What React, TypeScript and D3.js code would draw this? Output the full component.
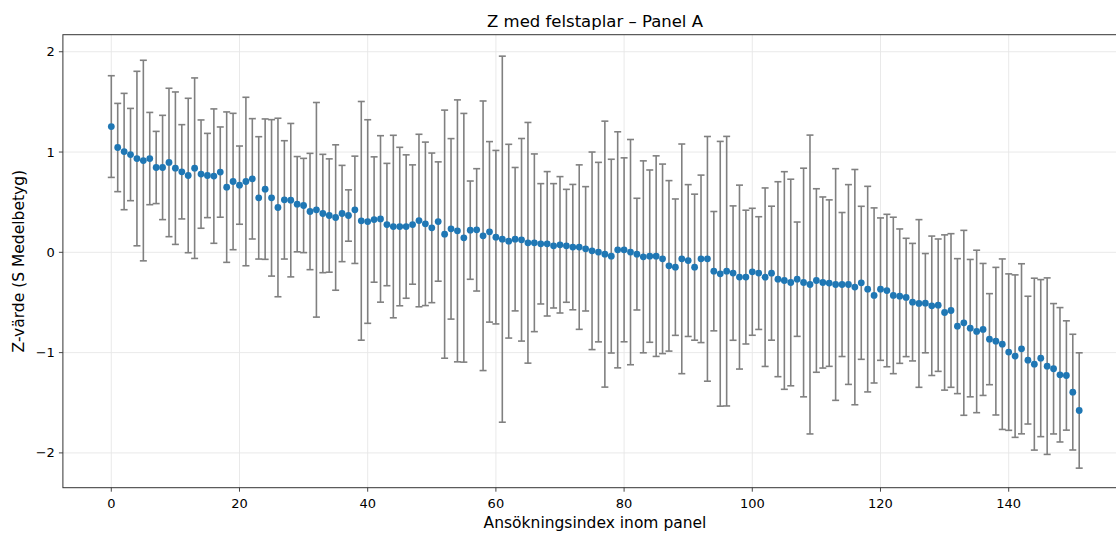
import * as d3 from 'd3'

// Z-värden per ansökan (punkt) och felstapel (±)
const zValues = [
  1.254, 1.045, 1.005, 0.975, 0.935, 0.915, 0.935, 0.846, 0.846, 0.896,
  0.839, 0.803, 0.766, 0.839, 0.78, 0.766, 0.76, 0.8, 0.65, 0.706,
  0.67, 0.706, 0.733, 0.543, 0.63, 0.543, 0.447, 0.523, 0.52, 0.48,
  0.467, 0.407, 0.424, 0.387, 0.367, 0.347, 0.387, 0.367, 0.424, 0.314,
  0.307, 0.327, 0.333, 0.277, 0.257, 0.257, 0.257, 0.277, 0.317, 0.284,
  0.244, 0.307, 0.181, 0.234, 0.214, 0.145, 0.221, 0.224, 0.165, 0.204,
  0.151, 0.131, 0.111, 0.131, 0.125, 0.095, 0.095, 0.085, 0.085, 0.065,
  0.075, 0.065, 0.052, 0.052, 0.035, 0.015, 0.002, -0.018, -0.038, 0.025,
  0.025, 0.002, -0.018, -0.045, -0.038, -0.038, -0.065, -0.135, -0.148, -0.065,
  -0.082, -0.148, -0.065, -0.065, -0.188, -0.214, -0.188, -0.207, -0.247, -0.247,
  -0.194, -0.207, -0.248, -0.208, -0.268, -0.281, -0.301, -0.268, -0.301, -0.321,
  -0.281, -0.301, -0.307, -0.321, -0.321, -0.321, -0.347, -0.304, -0.367, -0.43,
  -0.367, -0.381, -0.43, -0.437, -0.45, -0.497, -0.51, -0.507, -0.533, -0.527,
  -0.6, -0.58, -0.736, -0.703, -0.756, -0.789, -0.769, -0.866, -0.886, -0.916,
  -0.995, -1.035, -0.962, -1.075, -1.115, -1.055, -1.135, -1.161, -1.221, -1.228,
  -1.394, -1.577,
]

const errValues = [
  0.507, 0.44, 0.58, 0.46, 0.87, 1.0, 0.46, 0.36, 0.52, 0.74,
  0.76, 0.47, 0.77, 0.9, 0.54, 0.42, 0.67, 0.45, 0.75, 0.68,
  0.39, 0.84, 0.6, 0.61, 0.7, 0.78, 0.89, 0.59, 0.765, 0.475,
  0.47, 0.58, 1.07, 0.59, 0.565, 0.725, 0.48, 0.256, 0.535, 1.19,
  1.015, 0.625, 0.83, 0.61, 0.91, 0.79, 0.715, 0.595, 0.86, 0.815,
  0.746, 0.595, 1.237, 0.9, 1.306, 1.24, 0.49, 0.61, 1.344, 0.9,
  0.865, 1.825, 0.966, 0.715, 1.01, 1.2, 0.886, 0.6, 0.72, 0.62,
  0.68, 0.563, 0.625, 0.82, 0.62, 0.985, 0.895, 1.326, 0.966, 1.177,
  0.917, 1.123, 0.557, 0.957, 0.859, 1.0, 0.945, 0.85, 0.68, 1.145,
  0.757, 0.728, 0.835, 1.22, 0.595, 1.32, 1.344, 0.67, 0.917, 0.667,
  0.633, 0.562, 0.89, 0.668, 0.972, 1.085, 1.03, 0.57, 1.14, 1.49,
  0.915, 0.853, 0.83, 1.155, 0.718, 0.996, 1.173, 0.763, 1.025, 0.873,
  0.71, 0.76, 0.78, 0.67, 0.59, 0.586, 0.836, 0.495, 0.695, 0.66,
  0.774, 0.766, 0.673, 0.922, 0.685, 0.81, 0.658, 0.454, 0.736, 0.85,
  0.78, 0.81, 0.848, 0.637, 0.857, 0.783, 0.88, 0.65, 0.67, 0.545,
  0.577, 0.575,
]

const xTicks = [0, 20, 40, 60, 80, 100, 120, 140]
const yTicks = [-2, -1, 0, 1, 2]

const title = 'Z med felstaplar – Panel A'
const xLabel = 'Ansökningsindex inom panel'
const yLabel = 'Z-värde (S Medelbetyg)'

const W = 1116
const H = 534
const plot = { left: 62.9, right: 1127.6, top: 34.7, bottom: 487.7 }
const font = 'DejaVu Sans, sans-serif'

const fmt = (v: number) => (v < 0 ? '\u2212' + Math.abs(v) : String(v))

export default function App() {
  const n = zValues.length
  const x = d3.scaleLinear()
    .domain([-0.05 * (n - 1), (n - 1) * 1.05])
    .range([plot.left, plot.right])
  const y = d3.scaleLinear()
    .domain([-2.347, 2.17])
    .range([plot.bottom, plot.top])

  const points = zValues.map((z, i) => ({ i, z, e: errValues[i] }))
  const cap = 3.5

  return (
    <svg
      width={W}
      height={H}
      style={{ position: 'absolute', left: 0, top: 0, overflow: 'hidden', background: '#fff' }}
      fontFamily={font}
    >
      <rect width={W} height={H} fill="#fff" />

      {/* rutnät */}
      <g stroke="#e6e6e6" strokeWidth={0.9}>
        {xTicks.map(t => (
          <line key={'gx' + t} x1={x(t)} x2={x(t)} y1={plot.top} y2={plot.bottom} />
        ))}
        {yTicks.map(t => (
          <line key={'gy' + t} x1={plot.left} x2={plot.right} y1={y(t)} y2={y(t)} />
        ))}
      </g>

      {/* felstaplar */}
      <g stroke="#808080" strokeWidth={1.6}>
        {points.map(p => (
          <g key={'e' + p.i}>
            <line x1={x(p.i)} x2={x(p.i)} y1={y(p.z - p.e)} y2={y(p.z + p.e)} />
            <line x1={x(p.i) - cap} x2={x(p.i) + cap} y1={y(p.z + p.e)} y2={y(p.z + p.e)} />
            <line x1={x(p.i) - cap} x2={x(p.i) + cap} y1={y(p.z - p.e)} y2={y(p.z - p.e)} />
          </g>
        ))}
      </g>

      {/* punkter */}
      <g fill="#1f77b4">
        {points.map(p => (
          <circle key={'p' + p.i} cx={x(p.i)} cy={y(p.z)} r={3.4} />
        ))}
      </g>

      {/* ram */}
      <rect
        x={plot.left}
        y={plot.top}
        width={plot.right - plot.left}
        height={plot.bottom - plot.top}
        fill="none"
        stroke="#333"
        strokeWidth={1}
      />

      {/* x-axel */}
      <g fontSize={13} fill="#000" textAnchor="middle">
        {xTicks.map(t => (
          <g key={'tx' + t}>
            <line x1={x(t)} x2={x(t)} y1={plot.bottom} y2={plot.bottom + 4} stroke="#333" strokeWidth={0.9} />
            <text x={x(t)} y={plot.bottom + 20}>{fmt(t)}</text>
          </g>
        ))}
      </g>

      {/* y-axel */}
      <g fontSize={13} fill="#000" textAnchor="end">
        {yTicks.map(t => (
          <g key={'ty' + t}>
            <line x1={plot.left - 4} x2={plot.left} y1={y(t)} y2={y(t)} stroke="#333" strokeWidth={0.9} />
            <text x={plot.left - 8} y={y(t)} dy="0.35em">{fmt(t)}</text>
          </g>
        ))}
      </g>

      <text x={595} y={27} textAnchor="middle" fontSize={16.5} fill="#000">{title}</text>
      <text x={595} y={528} textAnchor="middle" fontSize={15.5} fill="#000">{xLabel}</text>
      <text
        transform={`translate(24, ${(plot.top + plot.bottom) / 2}) rotate(-90)`}
        textAnchor="middle"
        fontSize={15.5}
        fill="#000"
      >
        {yLabel}
      </text>
    </svg>
  )
}
